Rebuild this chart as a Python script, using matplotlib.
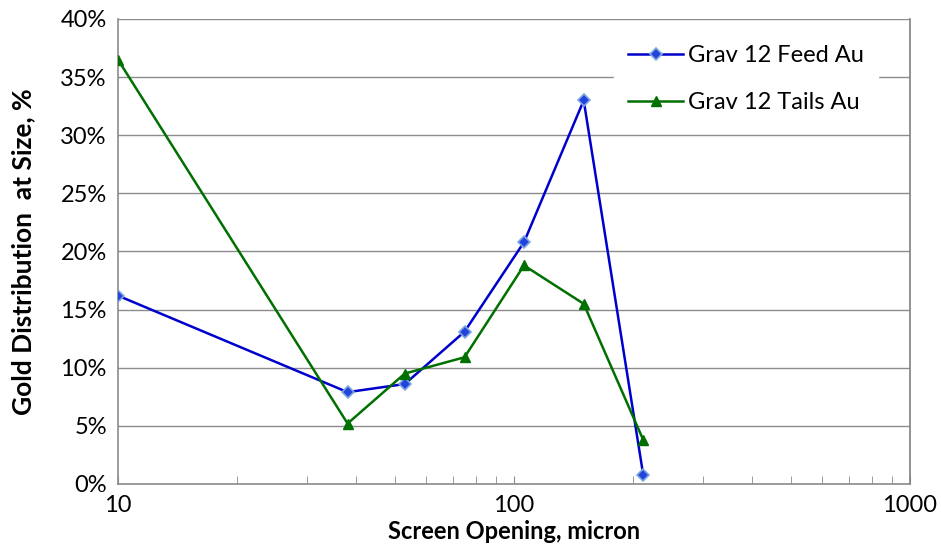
import matplotlib
matplotlib.use('Agg')
import matplotlib.pyplot as plt
from matplotlib.ticker import FuncFormatter, LogLocator, FixedLocator

plt.rcParams['font.family'] = ['Lato', 'DejaVu Sans']

# screen openings (micron) and gold distribution (%)
sizes = [10, 38, 53, 75, 106, 150, 212]
feed_au = [16.2, 7.9, 8.6, 13.1, 20.8, 33.0, 0.8]
tails_au = [36.5, 5.2, 9.5, 10.9, 18.8, 15.5, 3.8]

fig = plt.figure(figsize=(9.41, 5.52), dpi=100)
ax = fig.add_axes([0.1254, 0.1232, 0.8416, 0.8424])

ax.plot(sizes, feed_au, color='#0000CC', lw=1.8, marker='D', ms=6,
        mfc='#2244DD', mec='#7FA8E0', mew=1.2, label='Grav 12 Feed Au', zorder=3)
ax.plot(sizes, tails_au, color='#007000', lw=1.8, marker='^', ms=7,
        mfc='#007000', mec='#007000', label='Grav 12 Tails Au', zorder=3)

ax.set_xscale('log')
ax.set_xlim(10, 1000)
ax.set_ylim(0, 40)
ax.set_yticks(range(0, 41, 5))
ax.yaxis.set_major_formatter(FuncFormatter(lambda v, p: '%d%%' % v))
ax.xaxis.set_major_locator(FixedLocator([10, 100, 1000]))
ax.xaxis.set_major_formatter(FuncFormatter(lambda v, p: '%d' % v))
ax.xaxis.set_minor_locator(LogLocator(base=10, subs=range(2, 10)))
ax.xaxis.set_minor_formatter(FuncFormatter(lambda v, p: ''))

ax.grid(axis='y', color='#8C8C8C', lw=1.0)
ax.set_axisbelow(True)
ax.tick_params(axis='x', which='both', direction='in', length=6, color='#8C8C8C',
               labelsize=17, pad=8)
ax.tick_params(axis='y', length=0, labelsize=17, pad=8)
for side in ['left', 'bottom']:
    ax.spines[side].set_color('#8C8C8C')
    ax.spines[side].set_linewidth(1.2)
ax.spines['top'].set_visible(False)
ax.spines['right'].set_color('#808080')
ax.spines['right'].set_linewidth(1.2)

ax.set_xlabel('Screen Opening, micron', fontsize=17, fontweight='bold', labelpad=3)
ax.set_ylabel('Gold Distribution  at Size, %', fontsize=19, fontweight='bold', labelpad=18)

leg = ax.legend(loc='upper right', bbox_to_anchor=(0.974, 1.0), fontsize=17,
                frameon=True, fancybox=False, borderpad=0.6, labelspacing=1.1,
                handlelength=2.3, handletextpad=0.2)
leg.get_frame().set_edgecolor('white')
leg.get_frame().set_facecolor('white')
leg.get_frame().set_alpha(1)

fig.savefig('out.png', dpi=100)
